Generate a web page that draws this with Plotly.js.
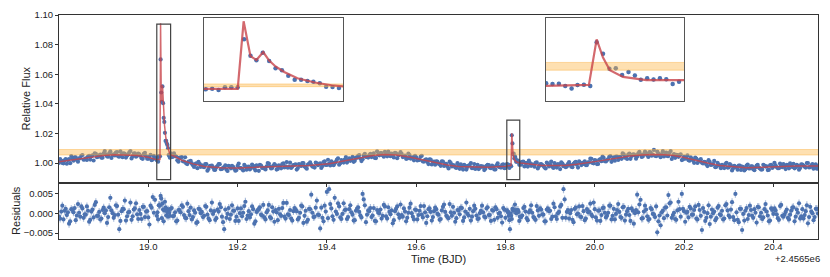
<!DOCTYPE html>
<html><head><meta charset="utf-8">
<script src="https://cdn.plot.ly/plotly-3.0.1.min.js"></script>
<style>html,body{margin:0;padding:0;background:#fff}#chart{width:830px;height:277px}</style>
</head><body><div id="chart"></div>
<script>
// flux offsets (flux - 1), residuals and model offsets are stored in units of 1e-4
const SCALE = 1e-4;
const time = [
18.8,18.805,18.81,18.815,18.82,18.825,18.83,18.835,18.84,18.845,18.85,18.855,18.86,18.865,18.87,18.875,18.88,18.885,18.89,18.895,
18.9,18.905,18.91,18.915,18.92,18.925,18.93,18.935,18.94,18.945,18.95,18.955,18.96,18.965,18.97,18.975,18.98,18.985,18.99,18.995,
19,19.005,19.01,19.015,
19.0192,19.0206,19.0220,19.0234,19.0248,19.0262,19.0276,19.0290,19.0303,19.0317,19.0331,19.0345,19.0359,19.0373,19.0387,19.0401,19.0415,19.0428,19.0442,19.0456,19.0470,19.0484,
19.05,19.055,19.06,19.065,19.07,19.075,19.08,19.085,19.09,19.095,19.1,19.105,19.11,19.115,19.12,19.125,19.13,19.135,19.14,19.145,
19.15,19.155,19.16,19.165,19.17,19.175,19.18,19.185,19.19,19.195,19.2,19.205,19.21,19.215,19.22,19.225,19.23,19.235,19.24,19.245,
19.25,19.255,19.26,19.265,19.27,19.275,19.28,19.285,19.29,19.295,19.3,19.305,19.31,19.315,19.32,19.325,19.33,19.335,19.34,19.345,
19.35,19.355,19.36,19.365,19.37,19.375,19.38,19.385,19.39,19.395,19.4,19.405,19.41,19.415,19.42,19.425,19.43,19.435,19.44,19.445,
19.45,19.455,19.46,19.465,19.47,19.475,19.48,19.485,19.49,19.495,19.5,19.505,19.51,19.515,19.52,19.525,19.53,19.535,19.54,19.545,
19.55,19.555,19.56,19.565,19.57,19.575,19.58,19.585,19.59,19.595,19.6,19.605,19.61,19.615,19.62,19.625,19.63,19.635,19.64,19.645,
19.65,19.655,19.66,19.665,19.67,19.675,19.68,19.685,19.69,19.695,19.7,19.705,19.71,19.715,19.72,19.725,19.73,19.735,19.74,19.745,
19.75,19.755,19.76,19.765,19.77,19.775,19.78,19.785,19.79,19.795,19.8,
19.8031,19.8045,19.8059,19.8073,19.8087,19.8100,19.8114,19.8128,19.8142,19.8156,19.8170,19.8184,19.8198,19.8212,19.8226,19.8239,19.8253,19.8267,19.8281,19.8295,19.8309,19.8323,
19.835,19.84,19.845,19.85,19.855,19.86,19.865,19.87,19.875,19.88,19.885,19.89,19.895,19.9,19.905,19.91,19.915,19.92,19.925,19.93,
19.935,19.94,19.945,19.95,19.955,19.96,19.965,19.97,19.975,19.98,19.985,19.99,19.995,20,20.005,20.01,20.015,20.02,20.025,20.03,
20.035,20.04,20.045,20.05,20.055,20.06,20.065,20.07,20.075,20.08,20.085,20.09,20.095,20.1,20.105,20.11,20.115,20.12,20.125,20.13,
20.135,20.14,20.145,20.15,20.155,20.16,20.165,20.17,20.175,20.18,20.185,20.19,20.195,20.2,20.205,20.21,20.215,20.22,20.225,20.23,
20.235,20.24,20.245,20.25,20.255,20.26,20.265,20.27,20.275,20.28,20.285,20.29,20.295,20.3,20.305,20.31,20.315,20.32,20.325,20.33,
20.335,20.34,20.345,20.35,20.355,20.36,20.365,20.37,20.375,20.38,20.385,20.39,20.395,20.4,20.405,20.41,20.415,20.42,20.425,20.43,
20.435,20.44,20.445,20.45,20.455,20.46,20.465,20.47,20.475,20.48,20.485,20.49,20.495,20.5];

const fluxOffset = [
2,17,-1,28,21,0,31,39,22,32,50,23,33,45,24,52,66,40,52,37,66,60,44,79,56,52,75,44,62,67,38,58,82,47,66,50,59,33,62,47,30,56,25,35,
19,28,10,46,46,46,700,477,414,518,405,305,278,205,150,150,132,123,101,55,50,37,
67,43,48,19,37,41,11,-2,11,15,-14,-7,-34,-4,-14,-27,-6,-38,-19,-29,
-45,-20,-7,-39,-26,-43,-18,-35,-25,-51,-19,-31,-38,-12,-44,-24,-31,-18,-49,-20,
-11,-32,-36,-22,-3,-36,-18,-14,-39,-24,-7,-29,7,-24,-32,-13,-8,-33,-15,1,
-22,-37,-4,-11,-23,3,-14,-2,-20,13,-12,-3,12,-14,9,33,0,12,24,4,
32,27,9,37,49,31,27,63,42,54,41,66,34,58,68,53,77,46,62,65,
39,67,51,74,41,51,32,55,38,19,40,24,44,12,22,8,25,-9,11,13,
-4,-18,10,-5,-21,10,-22,-16,-32,-14,-8,-43,-19,-26,-13,-34,-6,-31,-40,-20,
-24,-37,-11,-31,-17,-42,-14,-24,-30,-8,-32,
-7,-11,-10,-21,-32,-16,-15,-21,188,133,62,64,32,46,30,9,17,11,17,12,-11,0,
-10,11,1,-23,0,-8,-24,5,-21,-6,-19,-36,-3,-9,-24,0,-30,-12,6,-21,
-27,-5,-11,-27,3,-10,12,-13,4,-13,6,30,1,21,-6,23,13,35,12,27,
48,24,17,44,41,29,59,41,58,29,57,52,45,77,42,61,67,42,73,58,
50,78,53,61,45,72,48,82,48,36,55,55,21,44,36,20,39,19,37,1,
21,3,9,-9,20,-12,-6,-27,2,-18,-11,-33,2,-29,-15,-35,-24,-44,-17,-24,
-49,-17,-35,-22,-41,-28,-12,-36,-42,-16,-21,-45,-11,-24,-15,-34,-3,-27,-24,-11,
-35,-13,-4,-28,-18,-33,-9,-24,1,-29,-15,-37,-8,-20];

const residual = [
-8,5,-15,12,3,-20,9,14,-5,2,18,-11,-3,7,-16,10,22,-6,4,-13,15,8,-9,40,1,-4,19,-40,6,11,-18,3,28,-7,13,-2,9,-14,17,5,-10,20,42,35,
-6,3,-15,21,21,20,45,38,-12,25,10,-20,8,30,15,-5,12,3,-8,10,2,-6,
12,-7,3,-18,9,21,-4,-12,6,15,-9,2,-22,11,4,-6,17,-13,8,-1,
-16,10,24,-8,-40,-11,14,-3,7,-19,13,1,-7,19,-14,6,-2,11,-20,8,
16,-5,-10,3,22,-12,5,9,-17,-2,14,-8,27,-4,-13,6,10,-15,2,18,
-6,-21,12,48,-9,15,-3,-38,-11,20,55,62,13,-16,5,26,-10,-1,9,-14,
11,3,-18,7,16,-5,50,21,-3,6,-9,14,-20,2,10,-6,18,-13,4,8,
-17,12,-2,23,-8,5,-11,15,1,-15,9,-4,19,-10,3,-7,13,-18,6,11,
-3,-14,17,4,-9,24,-6,2,-12,8,15,-19,5,-1,12,-8,20,-5,-13,7,
3,-10,16,-4,9,-16,11,0,-7,14,-11,
8,4,5,-6,-17,-40,0,-6,-14,12,7,9,9,23,7,1,9,3,9,4,-19,-8,
-9,14,5,-17,8,2,-12,19,-6,10,-3,-20,13,7,-8,16,-14,4,22,62,
-11,9,1,-16,12,-2,18,-9,6,-13,3,25,-7,11,-18,8,-4,15,-10,2,
20,-6,-15,9,4,-11,17,-3,12,-19,7,1,48,23,-13,5,10,-16,14,-1,
-9,-48,-5,3,-12,16,47,28,-4,-14,8,11,50,6,2,-10,13,-3,18,-15,
9,-42,4,-11,21,-8,1,-17,15,-2,7,-13,24,-5,10,-9,50,-16,12,-42,
-18,14,-4,9,-11,2,17,-7,-14,11,5,-20,13,-1,8,-12,19,-6,-3,10,
-15,7,16,-8,2,-13,11,-4,21,-9,5,-17,12,0];

// interleaved exposures (between the ones above)
const timeMid = [
18.8025,18.8075,18.8125,18.8175,18.8225,18.8275,18.8325,18.8375,18.8425,18.8475,18.8525,18.8575,18.8625,18.8675,18.8725,18.8775,18.8825,18.8875,18.8925,18.8975,
18.9025,18.9075,18.9125,18.9175,18.9225,18.9275,18.9325,18.9375,18.9425,18.9475,18.9525,18.9575,18.9625,18.9675,18.9725,18.9775,18.9825,18.9875,18.9925,18.9975,
19.0025,19.0075,19.0125,
19.0525,19.0575,19.0625,19.0675,19.0725,19.0775,19.0825,19.0875,19.0925,19.0975,19.1025,19.1075,19.1125,19.1175,19.1225,19.1275,19.1325,19.1375,19.1425,19.1475,
19.1525,19.1575,19.1625,19.1675,19.1725,19.1775,19.1825,19.1875,19.1925,19.1975,19.2025,19.2075,19.2125,19.2175,19.2225,19.2275,19.2325,19.2375,19.2425,19.2475,
19.2525,19.2575,19.2625,19.2675,19.2725,19.2775,19.2825,19.2875,19.2925,19.2975,19.3025,19.3075,19.3125,19.3175,19.3225,19.3275,19.3325,19.3375,19.3425,19.3475,
19.3525,19.3575,19.3625,19.3675,19.3725,19.3775,19.3825,19.3875,19.3925,19.3975,19.4025,19.4075,19.4125,19.4175,19.4225,19.4275,19.4325,19.4375,19.4425,19.4475,
19.4525,19.4575,19.4625,19.4675,19.4725,19.4775,19.4825,19.4875,19.4925,19.4975,19.5025,19.5075,19.5125,19.5175,19.5225,19.5275,19.5325,19.5375,19.5425,19.5475,
19.5525,19.5575,19.5625,19.5675,19.5725,19.5775,19.5825,19.5875,19.5925,19.5975,19.6025,19.6075,19.6125,19.6175,19.6225,19.6275,19.6325,19.6375,19.6425,19.6475,
19.6525,19.6575,19.6625,19.6675,19.6725,19.6775,19.6825,19.6875,19.6925,19.6975,19.7025,19.7075,19.7125,19.7175,19.7225,19.7275,19.7325,19.7375,19.7425,19.7475,
19.7525,19.7575,19.7625,19.7675,19.7725,19.7775,19.7825,19.7875,19.7925,19.7975,
19.8375,19.8425,19.8475,19.8525,19.8575,19.8625,19.8675,19.8725,19.8775,19.8825,19.8875,19.8925,19.8975,19.9025,19.9075,19.9125,19.9175,19.9225,19.9275,19.9325,
19.9375,19.9425,19.9475,19.9525,19.9575,19.9625,19.9675,19.9725,19.9775,19.9825,19.9875,19.9925,19.9975,20.0025,20.0075,20.0125,20.0175,20.0225,20.0275,20.0325,
20.0375,20.0425,20.0475,20.0525,20.0575,20.0625,20.0675,20.0725,20.0775,20.0825,20.0875,20.0925,20.0975,20.1025,20.1075,20.1125,20.1175,20.1225,20.1275,20.1325,
20.1375,20.1425,20.1475,20.1525,20.1575,20.1625,20.1675,20.1725,20.1775,20.1825,20.1875,20.1925,20.1975,20.2025,20.2075,20.2125,20.2175,20.2225,20.2275,20.2325,
20.2375,20.2425,20.2475,20.2525,20.2575,20.2625,20.2675,20.2725,20.2775,20.2825,20.2875,20.2925,20.2975,20.3025,20.3075,20.3125,20.3175,20.3225,20.3275,20.3325,
20.3375,20.3425,20.3475,20.3525,20.3575,20.3625,20.3675,20.3725,20.3775,20.3825,20.3875,20.3925,20.3975,20.4025,20.4075,20.4125,20.4175,20.4225,20.4275,20.4325,
20.4375,20.4425,20.4475,20.4525,20.4575,20.4625,20.4675,20.4725,20.4775,20.4825,20.4875,20.4925,20.4975];

const fluxOffsetMid = [
27,1,19,-4,28,48,17,39,10,33,55,26,22,50,47,18,63,44,57,37,
82,46,66,35,59,71,46,80,40,63,52,73,32,64,44,65,49,29,70,30,
43,20,49,
43,66,45,10,36,13,40,-6,10,-2,-26,-1,8,-25,-23,-7,-51,-20,-17,-45,
-27,-7,-41,-32,-15,-53,-24,-19,-38,-47,-3,-34,-49,-22,-25,-42,-9,-36,-15,-52,
-16,-31,-42,1,-23,-33,-7,-43,-15,-35,-2,-21,-31,3,-24,-11,-43,-6,-19,0,
-30,-10,5,-23,-30,-2,-8,-32,7,-12,23,-15,4,0,24,-10,21,4,41,21,
16,42,16,37,55,14,52,43,38,62,57,35,80,53,68,44,61,78,47,51,
70,33,59,62,45,29,64,31,39,50,18,22,50,11,25,-6,24,8,-10,11,
-5,13,-19,-5,-36,0,-13,-28,0,-38,-25,-12,-43,-17,1,-32,-39,-11,-31,-24,
-47,-18,-13,-34,-24,-42,-2,-27,-12,-34,
9,-22,1,17,-18,-13,2,-36,-8,-13,-29,3,-22,11,-32,-12,-6,-40,-3,-17,
-22,7,-24,-5,8,-30,4,-7,13,-13,5,29,-1,18,-5,28,45,13,21,43,
9,39,45,22,42,66,37,28,65,48,60,30,67,59,45,78,53,74,50,89,
47,65,40,81,59,48,69,28,61,56,43,60,25,30,52,17,29,2,30,12,
27,-2,7,-20,8,-10,15,-25,-9,-34,-18,-7,-30,-6,-49,-19,-30,-17,-46,-26,
-41,-9,-36,-22,-48,-17,-30,-43,-11,-23,-47,-15,-32,2,-26,-34,-15,-6,-40,-19,
-2,-26,-35,-11,-44,-8,-17,-30,1,-27,-6,-22,-37];

const residualMid = [
-13,20,7,-4,-26,11,3,-17,24,-8,13,-2,18,-21,5,-10,29,-6,-15,9,
1,-24,16,8,-11,21,-3,-19,12,33,-7,4,-16,10,26,-14,-1,17,-9,6,
-28,15,2,
14,-6,-20,9,3,17,-11,25,-4,-15,8,-24,12,1,-9,19,-3,-17,28,6,
-12,5,16,-22,10,-1,-14,21,7,-8,-19,13,2,30,-5,-10,18,-26,4,11,
-3,22,-15,8,-9,16,-21,3,12,-6,27,-13,-2,9,-18,14,6,-11,20,-24,
7,-16,11,2,-8,33,-4,15,-20,5,-12,24,-7,40,-1,18,-14,26,10,-9,
21,-3,-17,12,4,-10,36,-22,8,14,-5,-19,9,1,-13,22,-7,16,-2,-25,
6,18,-11,-4,13,-20,2,25,-8,10,-15,7,-3,19,-24,11,4,-9,15,-1,
-16,8,23,-6,-12,3,17,-21,9,-2,14,-10,28,-5,-18,6,12,-14,1,20,
-8,13,-4,-19,7,16,-11,2,-23,10,
-5,17,-12,3,21,-9,-16,8,13,-2,-20,10,6,-14,25,-7,1,18,-11,36,
4,-13,9,-22,15,0,-8,19,-17,11,5,-3,28,-10,7,-19,14,2,-6,20,
-15,12,-1,24,-9,16,-18,6,-4,13,-26,9,3,35,-12,20,-7,-14,11,-2,
18,-20,-30,7,15,-5,26,-11,2,-16,30,-8,12,-21,4,17,-3,9,-13,22,
-6,14,-19,1,-27,10,5,-12,19,-4,-15,21,8,-9,29,-17,3,-22,12,-1,
7,-14,20,-6,11,-23,16,2,-10,24,-5,-18,9,13,-2,-16,22,-8,4,-11,
-3,15,-20,10,26,-7,-13,6,-25,17,1,-9,12];

const modelTime = [18.800,18.825,18.850,18.875,18.900,18.925,18.950,18.975,19.000,19.015,
19.0262,19.0275,19.0290,19.0303,19.0318,19.0331,19.0345,19.0364,19.0393,19.0431,19.0468,19.0500,
19.060,19.075,19.088,19.100,19.126,19.150,19.163,19.200,19.237,19.275,19.311,19.360,19.405,19.440,19.472,19.500,19.528,19.555,19.584,19.615,19.643,19.670,19.695,19.730,19.762,19.800,
19.8125,19.8142,19.8156,19.8171,19.8200,19.8251,19.8332,
19.845,19.881,19.934,19.960,20.004,20.040,20.079,20.105,20.131,20.155,20.176,20.200,20.227,20.255,20.280,20.310,20.339,20.375,20.414,20.450,20.500];
const modelOffset = [10,20,32,42,51,56,56,52,40,27,
25,945,470,418,525,410,330,255,170,112,74,55,
45,20,7,-5,-22,-29,-31,-32,-29,-24,-20,-16,-4,15,34,50,59,55,41,22,3,-12,-22,-26,-27,-21,
-15,202,115,55,23,8,1,
-4,-16,-16,-8,12,30,48,55,59,57,52,38,18,-1,-16,-26,-31,-28,-22,-20,-20];

const bandTime = [18.8, 20.5];
const bandLower = 55, bandUpper = 92;
const fluxErr = 0.001, residErr = 0.001;
const xTicks = [19.0, 19.2, 19.4, 19.6, 19.8, 20.0, 20.2, 20.4];
const box1X = [19.019, 19.050], box1Y = [0.9889, 1.0939];
const box2X = [19.803, 19.832], box2Y = [0.9889, 1.029];
const inset1X = [19.0188, 19.0493], inset1Y = [0.986, 1.099];
const inset2X = [19.8030, 19.8334], inset2Y = [0.9908, 1.0304];

const allTime = time.concat(timeMid);
const flux = fluxOffset.concat(fluxOffsetMid).map(v => 1 + v * SCALE);
const resid = residual.concat(residualMid).map(v => v * SCALE);
const model = modelOffset.map(v => 1 + v * SCALE);
const bandLo = bandTime.map(() => 1 + bandLower * SCALE);
const bandHi = bandTime.map(() => 1 + bandUpper * SCALE);

const BLUE = '#4c72b0', ERR = 'rgba(76,114,176,0.45)';
const RED = 'rgba(200,68,74,0.8)';
const BANDLINE = 'rgba(250,170,50,0.5)', BANDFILL = 'rgba(252,180,70,0.42)';

function group(xa, ya, msize, lw) {
  return [
    {x: allTime, y: flux, xaxis: xa, yaxis: ya, type: 'scatter', mode: 'markers',
     marker: {color: BLUE, size: msize},
     error_y: {type: 'constant', value: fluxErr, color: ERR, thickness: 1, width: 0}},
    {x: bandTime, y: bandLo, xaxis: xa, yaxis: ya, type: 'scatter', mode: 'lines',
     line: {color: BANDLINE, width: 0.8}},
    {x: bandTime, y: bandHi, xaxis: xa, yaxis: ya, type: 'scatter', mode: 'lines', fill: 'tonexty',
     fillcolor: BANDFILL, line: {color: BANDLINE, width: 0.8}},
    {x: modelTime, y: model, xaxis: xa, yaxis: ya, type: 'scatter', mode: 'lines',
     line: {color: RED, width: lw}}
  ];
}

const traces = [].concat(
  group('x2', 'y', 4.2, 1.5),
  group('x3', 'y3', 4.5, 2.2),
  group('x4', 'y4', 4.5, 2.2),
  [{x: allTime, y: resid, xaxis: 'x', yaxis: 'y2', type: 'scatter', mode: 'markers',
    marker: {color: BLUE, size: 4.2},
    error_y: {type: 'constant', value: residErr, color: ERR, thickness: 1.2, width: 0}}]
);

const base = {showline: true, linecolor: '#333', linewidth: 1, mirror: true, zeroline: false, showgrid: false};
const inset = {showline: true, linecolor: '#555', linewidth: 1, mirror: true, zeroline: false, showgrid: false,
  showticklabels: false, ticks: ''};

function boxShape(bx, by) {
  return {type: 'rect', xref: 'x2', yref: 'y', x0: bx[0], x1: bx[1], y0: by[0], y1: by[1],
    line: {color: '#444', width: 1.2}, layer: 'above'};
}

const layout = {
  width: 830, height: 277,
  margin: {l: 59, r: 12, t: 15, b: 38},
  paper_bgcolor: '#fff', plot_bgcolor: '#fff', showlegend: false,
  font: {family: 'Liberation Sans, Arial, sans-serif', size: 9.5, color: '#222'},
  xaxis: Object.assign({}, base, {domain: [0, 1], anchor: 'y2', range: [18.8, 20.5], tickvals: xTicks,
    tickformat: '.1f', ticks: 'outside', ticklen: 3, tickcolor: '#333', ticklabelstandoff: -4,
    title: {text: 'Time (BJD)', font: {size: 11}, standoff: 3}}),
  xaxis2: Object.assign({}, base, {domain: [0, 1], anchor: 'y', range: [18.8, 20.5], tickvals: xTicks,
    showticklabels: false, ticks: 'outside', ticklen: 3, tickcolor: '#333'}),
  yaxis: Object.assign({}, base, {domain: [0.252, 1], anchor: 'x2', range: [0.98691, 1.1], tick0: 1, dtick: 0.02,
    tickformat: '.2f', ticks: 'outside', ticklen: 3, tickcolor: '#333',
    title: {text: 'Relative Flux', font: {size: 11}, standoff: 1}}),
  yaxis2: Object.assign({}, base, {domain: [0, 0.252], anchor: 'x', range: [-0.0065, 0.0079],
    tickvals: [-0.005, 0, 0.005], tickformat: '.3f', ticks: 'outside', ticklen: 3, tickcolor: '#333',
    title: {text: 'Residuals', font: {size: 11}, standoff: 0}}),
  xaxis3: Object.assign({}, inset, {domain: [0.191, 0.3742], anchor: 'y3', range: inset1X}),
  yaxis3: Object.assign({}, inset, {domain: [0.6161, 0.9866], anchor: 'x3', range: inset1Y}),
  xaxis4: Object.assign({}, inset, {domain: [0.6412, 0.8235], anchor: 'y4', range: inset2X}),
  yaxis4: Object.assign({}, inset, {domain: [0.6161, 0.9866], anchor: 'x4', range: inset2Y}),
  shapes: [boxShape(box1X, box1Y), boxShape(box2X, box2Y)],
  annotations: [{text: '+2.4565e6', xref: 'paper', yref: 'paper', x: 1.005, y: -0.085,
    xanchor: 'right', yanchor: 'middle', showarrow: false, font: {size: 9.5, color: '#222'}}]
};

Plotly.newPlot('chart', traces, layout, {displayModeBar: false, staticPlot: true});
</script>
</body></html>
